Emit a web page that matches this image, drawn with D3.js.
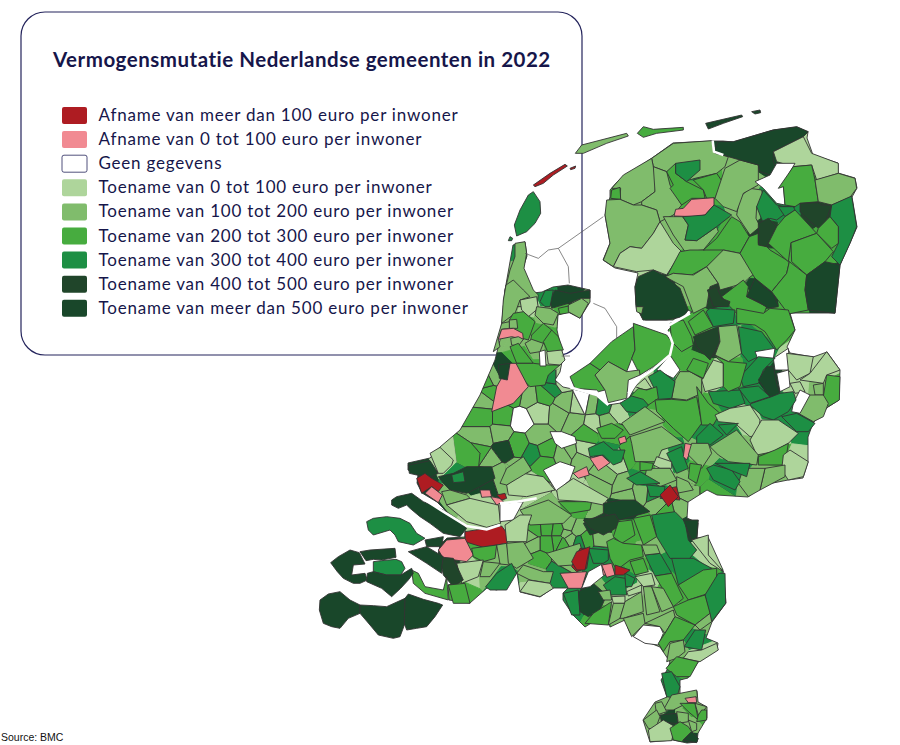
<!DOCTYPE html>
<html>
<head>
<meta charset="utf-8">
<script src="https://cdn.jsdelivr.net/npm/d3@7"></script>
<style>
  html, body { margin: 0; padding: 0; background: #fff; }
  text { font-family: Lato, sans-serif; }
</style>
</head>
<body>
<div class="chart"></div>
<script>
const title = 'Vermogensmutatie Nederlandse gemeenten in 2022';
const source = 'Source: BMC';
const legendLabels = [
  'Afname van meer dan 100 euro per inwoner',
  'Afname van 0 tot 100 euro per inwoner',
  'Geen gegevens',
  'Toename van 0 tot 100 euro per inwoner',
  'Toename van 100 tot 200 euro per inwoner',
  'Toename van 200 tot 300 euro per inwoner',
  'Toename van 300 tot 400 euro per inwoner',
  'Toename van 400 tot 500 euro per inwoner',
  'Toename van meer dan 500 euro per inwoner'
];
const colors = ['#ae1c22', '#f18a92', '#ffffff', '#aed59b', '#80bc6c', '#47ac3f', '#1d8f44', '#20452a', '#19472a'];

// land outline, map units
const mainland = '610,190 617,182 652,158 673,143 712,141 723,141 733,142 773,130 797,127 808,132 807,138 813,155 838,163 838,173 855,178 857,188 852,197 857,227 850,243 840,265 835,313 790,313 795,330 787,347 790,353 813,357 827,352 840,370 839,400 828,407 813,423 808,437 808,462 803,478 788,480 763,485 748,497 717,495 707,490 688,502 687,518 698,523 697,538 708,537 723,570 726,603 712,622 706,638 718,643 717,650 698,662 688,678 680,680 680,697 697,691 698,702 707,707 707,718 698,733 697,742 687,743 673,740 650,742 643,720 655,702 667,697 661,680 667,670 670,662 660,647 635,637 630,633 625,620 610,627 607,613 585,627 573,615 563,600 563,593 568,588 553,588 540,597 520,592 517,573 497,590 487,588 470,603 449,600 448,585 457,583 462,580 455,562 438,555 440,545 447,538 465,537 465,530 463,523 447,512 437,502 422,493 417,483 418,475 408,470 408,463 430,458 440,447 460,430 480,395 495,360 500,340 505,290 513,245 525,242 527,256 523,268 533,293 542,292 553,287 568,285 590,290 590,302 580,318 568,312 558,315 557,330 563,357 560,372 555,380 563,387 577,390 595,395 608,405 627,402 640,378 653,368 670,355 673,343 668,330 683,317 692,312 688,310 673,320 643,320 636,305 635,287 638,273 615,268 603,260 610,243 605,215 610,197';

// municipalities traced per map sheet: [class, ring]
const northShapes = [
  [6,'70,245 90,275 92,310 75,340 50,365 20,378 13,345 30,300 55,255'],
  [6,'0,380 8,385 5,392 -5,392'],
  [4,'15,400 45,395 50,430 42,475 70,540 85,555 80,590 -20,590 -15,540 0,480 15,440'],
  [0,'70,225 120,190 165,163 172,168 130,195 100,220 75,230'],
  [0,'180,175 197,168 195,175 182,179'],
  [4,'196,130 215,105 350,70 355,78 290,100 220,130'],
  [5,'382,70 400,50 430,58 520,52 520,60 440,70 400,82'],
  [8,'587,40 695,15 698,20 640,40 595,57'],
  [8,'725,5 750,0 752,8 735,12'],
  [4,'425,145 490,100 605,92 615,130 655,140 645,170 620,190 555,205 520,215 495,180 470,185 430,170'],
  [4,'305,235 340,195 425,145 430,170 438,195 435,245 395,275 370,285 330,268 332,235'],
  [5,'305,240 330,232 332,268 302,265'],
  [4,'430,170 470,185 480,225 515,285 490,315 450,335 440,300 395,285 395,275 435,245'],
  [5,'470,185 497,160 497,190 530,215 580,240 585,265 545,265 515,285 480,235 490,225'],
  [6,'497,160 570,150 570,180 530,215 497,190'],
  [5,'550,210 620,190 637,215 615,265 590,265 580,240'],
  [4,'290,270 330,268 370,285 395,285 440,300 450,335 430,370 395,415 360,410 330,430 310,470 280,450 300,400 285,315'],
  [3,'330,430 360,410 395,415 430,370 450,335 490,400 515,425 470,495 430,480 380,485 310,470'],
  [4,'460,320 490,320 518,320 535,345 525,390 560,392 620,350 625,365 580,420 525,425 490,375'],
  [1,'492,318 497,298 520,295 545,268 612,263 612,285 585,315 555,320'],
  [6,'518,320 585,315 612,285 665,315 620,350 560,392 525,390 535,345'],
  [5,'470,500 510,425 540,420 580,420 630,410 640,425 590,470 545,495 490,490'],
  [5,'580,420 620,385 665,320 690,335 718,380 690,430 640,420'],
  [4,'465,500 490,490 550,495 590,470 625,520 600,530 590,590 550,610 520,530'],
  [8,'375,530 385,500 430,480 460,495 510,535 535,600 520,620 470,630 400,630 378,590'],
  [4,'378,590 400,590 395,612 380,605'],
  [4,'590,470 640,420 690,430 735,490 715,505 700,520 630,540 625,520'],
  [5,'635,560 700,510 715,530 710,560 770,590 755,630 700,630 660,590'],
  [7,'592,540 620,530 635,565 660,575 655,590 610,590'],
  [5,'690,430 718,380 745,370 745,400 770,410 780,420 838,455 830,490 785,545 735,505'],
  [8,'710,560 735,505 760,530 790,550 805,590 775,595 745,575'],
  [4,'690,330 680,315 690,260 720,235 755,240 760,265 740,290 738,325 750,350 720,375'],
  [4,'615,265 645,175 690,150 745,165 745,225 700,250 680,305 640,290'],
  [8,'625,95 670,95 790,60 860,50 895,65 880,80 790,125 790,155 800,175 780,195 750,185 745,165 690,150 655,140 610,125'],
  [3,'790,125 880,80 905,130 985,160 985,190 920,210 905,165 850,170 800,155'],
  [2,'735,215 780,195 800,160 855,160 820,220 825,285 800,280 760,235'],
  [5,'805,235 850,170 905,165 915,210 925,275 870,280 855,290 825,285 820,230'],
  [4,'915,210 985,190 1035,205 1040,235 1020,262 965,285 925,275'],
  [6,'965,285 1025,258 1040,350 1020,400 990,465 965,440 985,400 985,350 960,320'],
  [6,'740,290 760,240 800,285 825,290 855,290 800,330 780,325 760,340'],
  [6,'805,290 850,290 855,300 825,320'],
  [7,'745,340 775,325 800,350 770,410 745,405'],
  [5,'775,400 800,350 825,320 855,300 920,370 843,398 835,455'],
  [7,'870,280 925,278 935,285 965,285 945,340 925,355 895,330 870,305'],
  [5,'925,355 960,320 985,350 985,400 965,415 920,370'],
  [5,'843,398 920,370 970,425 945,455 890,495 845,455'],
  [5,'838,455 890,495 885,540 895,600 835,612 785,545 830,490'],
  [8,'890,495 945,455 990,465 975,610 895,600 885,540']
];

const centreShapes = [
  [4,'78,15 100,0 130,30 150,50 120,60 105,100 65,130 70,60'],
  [8,'210,60 225,30 270,40 330,30 330,55 305,55 265,70 215,85'],
  [6,'180,65 195,32 220,30 210,80 195,80'],
  [3,'120,60 170,50 175,85 145,110 125,90'],
  [4,'170,80 210,85 235,100 220,135 190,130 165,105'],
  [5,'235,85 265,78 268,98 240,103'],
  [4,'265,75 305,55 325,70 300,115 265,95'],
  [5,'100,100 130,95 165,125 145,180 110,170 88,120'],
  [5,'155,165 190,130 215,150 205,190 150,190'],
  [5,'190,185 215,150 235,170 250,210 205,220'],
  [4,'135,190 155,178 190,190 180,215 150,220'],
  [4,'88,120 110,118 113,145 88,145'],
  [4,'65,130 88,125 88,145 65,148 55,178 60,200 40,215'],
  [1,'55,178 65,148 100,145 128,160 130,178 95,170'],
  [4,'92,175 115,170 130,178 115,198 95,195'],
  [5,'90,200 115,190 160,250 110,250'],
  [5,'108,250 160,250 205,255 240,255 205,285 195,315 150,320 110,280'],
  [2,'178,215 195,210 198,258 180,258'],
  [3,'200,215 245,210 255,240 240,255 205,252'],
  [1,'90,250 108,250 145,320 100,370 35,395 50,320'],
  [8,'55,255 90,250 82,300 58,295'],
  [5,'270,290 330,250 360,270 345,285 375,330 355,335 350,330 285,325'],
  [5,'330,250 395,185 460,140 465,210 440,275 385,245 360,270'],
  [5,'460,130 560,165 578,190 570,225 520,260 480,285 455,235 465,210'],
  [4,'345,285 385,245 440,275 478,270 480,285 445,300 440,355 385,368 375,330'],
  [5,'570,130 610,120 635,170 640,195 605,215 575,185'],
  [5,'625,125 670,90 700,140 645,165'],
  [6,'678,95 690,85 765,90 760,130 700,140'],
  [7,'640,170 715,140 720,185 690,240 650,200'],
  [5,'770,85 850,100 870,85 925,90 945,150 920,180 890,210 855,155 825,135 770,130'],
  [4,'715,140 770,135 785,220 745,245 705,225 720,185'],
  [6,'775,140 845,155 885,210 825,235 805,245 785,220'],
  [2,'825,215 885,205 880,235 835,240'],
  [2,'880,235 925,205 930,270 885,270'],
  [6,'780,290 835,230 885,235 850,270 835,310 790,320'],
  [2,'890,280 925,270 930,320 900,335'],
  [8,'835,300 860,260 880,260 890,310 900,340 870,355 850,320'],
  [3,'920,220 1000,230 990,280 950,300 925,270'],
  [3,'990,280 1040,215 1080,270 1040,285 1030,310 960,300'],
  [5,'1040,285 1080,290 1078,360 1045,380 1030,350'],
  [4,'1000,315 1030,310 1030,345 1005,345'],
  [3,'930,310 960,305 975,335 945,340'],
  [4,'960,380 985,345 1030,345 1045,370 1030,410 1000,425 955,400'],
  [2,'940,370 960,330 990,345 960,400 935,395'],
  [6,'815,370 875,350 900,340 940,335 948,360 925,395 880,420 850,410 810,375'],
  [6,'775,325 835,318 870,350 810,370'],
  [6,'685,335 780,330 795,370 750,385 700,370'],
  [3,'700,240 730,250 730,320 675,335 665,300'],
  [5,'700,225 745,245 800,250 780,320 745,335 730,320 730,250'],
  [4,'600,275 630,275 665,295 665,340 620,360 575,355 585,300'],
  [5,'620,270 640,235 685,250 670,295 650,285'],
  [2,'530,270 570,225 600,270 580,295'],
  [6,'505,290 540,270 585,305 575,355 535,358 520,320'],
  [3,'465,320 495,295 515,325 495,330'],
  [5,'450,350 475,325 500,330 530,320 535,355 505,375'],
  [6,'420,370 455,348 490,358 505,375 485,400 440,395'],
  [5,'525,360 575,358 620,362 650,350 665,430 625,485 580,445 530,395'],
  [5,'650,320 685,370 720,400 700,435 665,435'],
  [3,'705,405 750,385 810,375 840,420 835,465 810,470 765,430 715,425'],
  [3,'810,480 845,420 895,420 955,460 925,490 880,515 830,525'],
  [6,'905,410 950,400 1005,430 985,455 950,455'],
  [4,'450,470 545,440 610,490 545,510 530,545 465,545 455,490'],
  [4,'425,430 495,380 555,425 450,465'],
  [6,'650,470 690,430 730,465 690,495 650,490'],
  [6,'715,435 775,430 740,465'],
  [4,'690,500 770,450 835,525 830,555 745,545 715,525'],
  [5,'835,530 885,510 925,490 915,555 835,555'],
  [3,'910,525 930,510 985,545 970,590 925,600 905,570'],
  [4,'855,565 915,555 915,590 840,630'],
  [4,'790,565 855,565 840,630 805,650 775,610'],
  [6,'680,565 700,555 755,570 780,605 765,630 700,600'],
  [6,'705,550 810,550 800,590 750,570'],
  [6,'560,520 605,500 615,540 625,565 590,580'],
  [1,'615,490 640,495 620,540 610,530'],
  [4,'635,490 685,490 695,520 665,565 625,525'],
  [5,'630,550 665,555 650,610 625,595'],
  [3,'530,530 575,545 575,565 540,565 520,555'],
  [4,'500,565 570,565 590,600 540,620 495,590'],
  [4,'590,590 625,605 640,630 590,640'],
  [5,'480,545 520,550 515,570 480,572'],
  [6,'440,595 480,575 540,610 470,615'],
  [6,'500,615 555,620 550,650 510,650'],
  [0,'540,655 565,625 590,620 600,660'],
  [1,'330,535 365,525 390,548 355,572'],
  [1,'280,580 320,560 328,585 295,595'],
  [6,'325,505 370,485 400,510 435,510 425,545 400,555 370,525 330,530'],
  [1,'415,475 435,468 440,485 420,492'],
  [2,'210,455 245,455 285,470 290,490 245,505 225,490'],
  [5,'350,445 395,430 430,450 405,475 365,475'],
  [2,'190,570 240,545 285,560 270,600 230,635']
];

const southWestShapes = [
  [8,'295,75 360,62 385,100 365,110 320,105 298,100'],
  [0,'320,115 345,100 365,115 400,135 385,155 365,140 335,160'],
  [1,'345,160 365,140 397,165 385,188'],
  [3,'360,40 390,22 430,60 425,75 400,100 385,100'],
  [8,'385,110 430,100 470,80 545,80 555,115 510,140 470,160 420,150 400,130'],
  [6,'425,105 460,95 465,125 430,128'],
  [4,'395,155 420,150 470,165 480,175 410,195'],
  [3,'410,195 480,175 565,195 572,250 530,262 470,245'],
  [1,'510,150 540,150 545,170 515,172'],
  [1,'542,170 570,175 580,185 560,195'],
  [0,'560,165 585,160 590,175 575,180'],
  [3,'590,135 640,100 700,110 735,150 650,170 595,165'],
  [4,'570,130 590,85 640,50 665,90 640,105 590,135'],
  [2,'570,190 640,185 610,240 570,245'],
  [8,'245,180 260,170 305,160 340,185 400,210 440,240 470,265 450,290 400,280 360,250 330,230 300,205 290,195 265,205 245,195'],
  [6,'170,245 190,235 230,230 270,235 300,250 320,280 345,295 310,315 265,305 255,285 240,270 190,285 175,270'],
  [8,'345,300 400,290 395,320 350,320'],
  [0,'465,275 575,258 600,292 590,310 520,322 465,305'],
  [1,'385,330 410,300 465,295 490,345 470,365 400,355'],
  [5,'485,325 560,315 555,355 520,365 490,350'],
  [4,'560,315 590,310 600,375 570,372'],
  [4,'590,310 640,305 670,355 620,385 595,370'],
  [3,'440,370 520,360 505,410 455,430'],
  [4,'520,365 570,370 540,410 510,410'],
  [6,'527,440 560,400 605,370 620,400 590,450 540,450'],
  [4,'620,400 640,375 700,395 730,395 720,430 660,420'],
  [3,'630,455 655,420 720,430 730,445 690,470 650,460'],
  [8,'295,335 350,320 400,350 395,400 350,370'],
  [7,'400,352 430,355 460,420 430,440 400,405 395,380'],
  [5,'305,390 325,400 345,440 400,450 410,410 415,480 345,460 310,430'],
  [5,'415,435 465,430 480,490 430,490'],
  [8,'62,368 85,350 120,330 148,338 165,372 130,375 125,405 165,400 172,420 150,430 130,430 100,415 82,395'],
  [8,'150,335 180,330 255,325 258,352 215,360 190,358 168,362'],
  [6,'190,365 215,362 258,358 275,365 285,385 272,405 230,405 190,395'],
  [8,'172,400 190,395 230,405 272,405 305,385 310,400 295,420 272,445 245,470 215,445 170,425'],
  [8,'28,510 30,480 55,462 90,455 120,480 150,495 150,520 115,535 90,565 65,560 40,550'],
  [8,'150,495 190,497 230,500 285,475 285,550 270,590 250,595 205,585 180,555 150,520'],
  [8,'285,475 295,462 340,478 385,490 398,495 375,530 350,560 320,565 290,570 283,550'],
  [5,'745,185 845,185 840,210 780,220'],
  [4,'630,210 715,180 785,225 760,250 660,255'],
  [3,'585,255 630,225 665,225 655,255 650,305 590,305'],
  [3,'740,150 790,115 895,175 880,195 830,185 745,180'],
  [4,'710,340 810,310 815,330 790,375 745,378'],
  [8,'820,250 890,215 890,270 840,285'],
  [0,'785,380 810,325 840,325 830,385 800,395'],
  [1,'750,400 830,395 815,445 775,445'],
  [6,'760,460 805,450 810,525 785,525'],
  [8,'805,455 850,430 890,465 870,510 835,530 810,515'],
  [2,'815,445 835,395 880,370 890,400 840,440'],
  [1,'875,375 900,375 900,405 880,405']
];

const southShapes = [
  [8,'130,100 155,95 185,90 225,90 270,125 180,150 130,130'],
  [7,'70,150 165,132 185,165 130,195 90,175'],
  [0,'300,75 330,45 355,80 325,110'],
  [6,'275,135 345,125 375,155 385,210 410,240 385,270 330,265 290,200'],
  [8,'370,150 415,150 410,205 395,210'],
  [3,'395,210 445,195 445,255 490,305 450,280'],
  [6,'255,255 300,250 335,310 285,318'],
  [6,'335,265 400,265 455,295 355,345'],
  [5,'355,345 430,300 470,295 470,360 430,375 385,390'],
  [6,'435,375 475,310 495,310 497,400 455,455'],
  [5,'285,318 335,310 370,385 340,410'],
  [5,'340,410 385,390 435,375 450,430 405,465 350,435'],
  [5,'175,155 215,150 225,195 185,220 160,200'],
  [5,'220,145 270,135 290,200 250,225'],
  [5,'140,215 160,205 190,220 245,225 250,260 210,270 170,300 150,265'],
  [4,'245,225 290,225 300,250 255,255'],
  [6,'85,235 145,240 145,270 130,280 100,280'],
  [0,'35,275 50,245 90,230 75,300 50,300'],
  [1,'125,285 155,280 165,315 140,322'],
  [0,'165,285 210,300 190,315 165,315'],
  [6,'195,310 225,325 215,350 195,350'],
  [5,'210,275 250,265 265,305 225,315'],
  [3,'225,320 275,310 285,345 250,350'],
  [6,'130,345 165,320 195,325 200,375 150,375'],
  [4,'115,365 150,360 155,390 130,390'],
  [3,'155,380 195,378 195,400 160,400'],
  [5,'75,460 100,430 155,395 145,465'],
  [4,'145,465 160,400 195,400 180,445'],
  [4,'180,445 195,395 245,365 250,425 190,445'],
  [3,'200,365 245,345 245,365 205,378'],
  [4,'250,350 275,350 300,425 260,435'],
  [4,'275,350 310,355 340,410 305,425'],
  [4,'190,445 250,430 255,460 215,500'],
  [4,'255,460 340,420 345,440 315,490 300,470'],
  [2,'220,500 250,465 300,470 310,490 295,525 255,520'],
  [5,'295,520 315,490 345,440 405,465 370,510 330,515 310,545'],
  [6,'372,530 405,480 437,480 425,540'],
  [4,'405,465 450,430 455,455 420,480'],
  [4,'330,520 370,510 375,545 350,565 320,575'],
  [3,'370,565 385,545 425,540 470,520 475,540 420,575'],
  [5,'318,595 350,560 415,575 390,620 350,620'],
  [6,'305,610 335,605 360,650 350,685 320,680'],
  [4,'335,675 410,660 412,680 390,695 340,720 310,720'],
  [1,'375,685 408,680 410,698 385,698'],
  [4,'285,700 305,695 320,725 290,735'],
  [4,'250,750 290,720 300,740 285,780 265,775'],
  [8,'300,735 350,730 355,762 305,755'],
  [5,'360,700 405,700 415,750 385,725'],
  [4,'350,725 385,730 385,755 355,760'],
  [4,'405,700 440,710 425,730 415,735'],
  [5,'415,735 425,720 440,720 440,750 410,755'],
  [3,'265,780 310,750 345,770 335,812 270,815'],
  [5,'330,775 360,755 385,770 395,785 365,815 340,810'],
  [8,'370,810 395,785 415,805 410,818'],
  [4,'385,750 410,760 410,780 395,785']
];

// small municipalities filled in as a tessellation: [x, y, class]
const centreSeeds = [
  [15,360,4],[10,410,5],[65,410,5],[125,420,2],[175,395,3],[150,350,4],[190,345,5],[212,320,6],
  [240,400,4],[285,420,4],[290,380,3],[255,375,4],[310,370,2],[335,375,4],[367,380,6],[415,395,3],
  [340,430,3],[380,425,4],[10,470,4],[60,460,4],[115,495,5],[70,510,8],[175,470,4],[160,520,6],
  [195,510,5],[110,570,4],[190,550,5],[270,515,4],[255,525,4],[300,535,4],[310,510,3],[320,460,5],
  [395,460,5],[150,620,3],[285,630,3],[370,590,4],[410,540,3],[450,525,5],[20,590,8],
  [440,640,4],[620,640,4],[700,640,5],[100,340,5],[30,340,5],[40,290,4],[20,300,5],
  [0,520,5],[30,540,4],[240,300,3],[215,300,6]
];
const southWestSeeds = [
  [675,268,5],[710,265,5],[745,270,5],[745,305,5],[710,310,5],[670,310,4],[800,270,4],[825,300,5],
  [690,360,5],[740,395,6],[870,345,6],[660,290,4],[780,295,4],[560,100,4],[510,40,5],[480,50,5]
];
const southSeeds = [
  [40,65,3],[120,40,4],[195,50,4],[285,65,6],[380,20,4],[240,60,4],[300,100,4],[20,190,4],
  [60,215,6],[125,205,4],[10,270,4],[25,170,4],[5,220,5],[115,140,4],[360,110,4],[320,120,5]
];

const water = [
  ['north','45,430 85,445 115,420 145,415 280,320', 'thin'],
  ['north','145,415 175,470 178,520', 'thin'],
  ['centre','340,70 375,85 410,140 410,175', 'thin'],
  ['centre','245,228 270,228', 'thin'],
  ['centre','270,322 350,345 385,375', 'wide'],
  ['centre','445,340 480,295 520,268 570,225 578,190 565,155', 'wide'],
  ['centre','490,125 560,140 630,100', 'wide'],
  ['sw','330,170 400,215 470,258 530,268 570,255', 'wide'],
  ['sw','570,190 620,185 680,175', 'wide'],
  ['north','608,92 612,125 640,135', 'wide']
];

const width = 900, height = 745;
const svg = d3.select('.chart').append('svg')
  .attr('width', width)
  .attr('height', height)
  .style('display', 'block');

// each traced sheet is a 3x crop of the map
function sheet(x0, y0) {
  let x = d3.scaleLinear().domain([0, 3]).range([x0, x0 + 1]);
  let y = d3.scaleLinear().domain([0, 3]).range([y0, y0 + 1]);
  return p => [x(p[0]), y(p[1])];
}
const sheets = { north: sheet(510, 110), centre: sheet(480, 280), sw: sheet(310, 440), south: sheet(560, 470) };
const ring = s => s.split(' ').map(p => p.split(',').map(Number));
const line = d3.line();
const shapeSets = [[northShapes, 'north'], [centreShapes, 'centre'], [southWestShapes, 'sw'], [southShapes, 'south']];

// box behind the map
svg.append('rect')
  .attr('x', 21).attr('y', 12)
  .attr('width', 561).attr('height', 343)
  .attr('rx', 24)
  .attr('fill', '#fff')
  .attr('stroke', '#24245c')
  .attr('stroke-width', 1.2);

svg.append('text')
  .attr('x', 53).attr('y', 67)
  .attr('font-size', 20.5)
  .attr('font-weight', 700)
  .attr('letter-spacing', 0.51)
  .attr('fill', '#16164a')
  .text(title);

let legend = svg.selectAll('.legend-row')
  .data(legendLabels)
  .enter()
  .append('g')
  .attr('class', 'legend-row')
  .attr('transform', (d, i) => 'translate(62,' + (107 + i * 24.1) + ')');
legend.append('rect')
  .attr('width', 25).attr('height', 17).attr('rx', 2)
  .attr('fill', (d, i) => colors[i])
  .attr('stroke', (d, i) => i == 2 ? '#24245c' : 'none')
  .attr('stroke-width', 0.8);
legend.append('text')
  .attr('x', 36.5).attr('y', 14)
  .attr('font-size', 17)
  .attr('letter-spacing', 0.78)
  .attr('fill', '#16164a')
  .text(d => d);

svg.append('text')
  .attr('x', 1).attr('y', 741)
  .attr('font-size', 10.5)
  .style('font-family', 'Liberation Sans, sans-serif')
  .attr('fill', '#111')
  .text(source);

// the map
svg.append('clipPath').attr('id', 'land')
  .append('path').attr('d', line(ring(mainland)) + 'Z');

// tessellation cells: the listed seeds get borders, shape centres only fill gaps under the shapes
let cells = [];
[[centreSeeds, 'centre'], [southWestSeeds, 'sw'], [southSeeds, 'south']].forEach(([list, name]) => {
  list.forEach(s => cells.push({ p: sheets[name](s), cls: s[2], seed: true }));
});
shapeSets.forEach(([shapes, name]) => {
  shapes.filter(d => d[0] > 2).forEach(d => {
    cells.push({ p: d3.polygonCentroid(ring(d[1]).map(sheets[name])), cls: d[0], seed: false });
  });
});
let voronoi = d3.Delaunay.from(cells.map(c => c.p)).voronoi([0, 0, width, height]);
let map = svg.append('g').attr('stroke', '#333').attr('stroke-width', 0.9).attr('stroke-linejoin', 'round');

map.append('g').attr('clip-path', 'url(#land)')
  .selectAll('path')
  .data(cells)
  .enter()
  .append('path')
  .attr('d', (d, i) => voronoi.renderCell(i))
  .attr('fill', d => colors[d.cls])
  .attr('stroke', d => d.seed ? '#333' : colors[d.cls]);

map.append('path')
  .attr('d', line(ring(mainland)) + 'Z')
  .attr('fill', 'none');

shapeSets.forEach(([shapes, name]) => {
  map.append('g')
    .selectAll('path')
    .data(shapes)
    .enter()
    .append('path')
    .attr('d', d => line(ring(d[1]).map(sheets[name])) + 'Z')
    .attr('fill', d => colors[d[0]]);
});

svg.append('g').attr('fill', 'none')
  .selectAll('path')
  .data(water)
  .enter()
  .append('path')
  .attr('d', d => line(ring(d[1]).map(sheets[d[0]])))
  .attr('stroke', d => d[2] == 'thin' ? '#555' : '#fff')
  .attr('stroke-width', d => d[2] == 'thin' ? 0.7 : 2.6);
</script>
</body>
</html>
